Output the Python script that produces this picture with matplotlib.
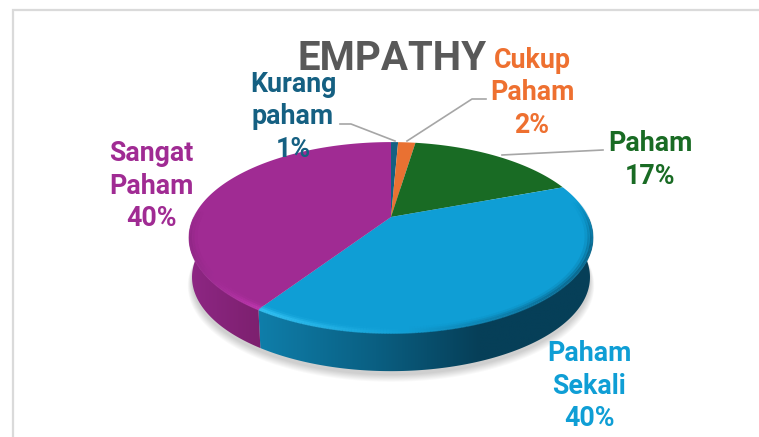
import numpy as np
import matplotlib
matplotlib.use("Agg")
import matplotlib.pyplot as plt
from matplotlib.patches import Polygon
from matplotlib.collections import LineCollection
from matplotlib.colors import to_rgb

# shares as measured on the slices; the printed labels are rounded
categories = ["Kurang\npaham", "Cukup\nPaham", "Paham", "Paham\nSekali", "Sangat\nPaham"]
values = [0.7, 1.7, 16.9, 40.0, 40.7]
percent_labels = ["1%", "2%", "17%", "40%", "40%"]
colors = ["#156082", "#E97132", "#196B24", "#0F9ED5", "#A02B93"]
label_colors = ["#156082", "#EE7030", "#196B24", "#0F9ED5", "#A02B93"]
label_pos = [(293, 117), (532, 93), (650, 160), (589, 386), (151, 186)]

CX, CY = 391, 217
RX, RY, K = 197.3, 91.0, 0.2147
DEPTH = 40


def project(frac, scale=1.0, dy=0.0):
    # tilted circle, frac runs clockwise from the top
    a = 2 * np.pi * np.asarray(frac)
    x, y = np.sin(a), np.cos(a)
    w = 1 + K * y
    return CX + scale * RX * x / w, CY + dy - scale * RY * y / w


def mix(c, other, t):
    return (1 - t) * np.array(to_rgb(c)) + t * np.array(to_rgb(other))


def wall(fr, stops, x0, x1):
    xa, ya = project(fr)
    xb, yb = project(fr, scale=0.985, dy=DEPTH)
    poly = Polygon(np.r_[np.c_[xa, ya], np.c_[xb, yb][::-1]], fc="none", ec="none", zorder=3)
    ax.add_patch(poly)
    pos = np.linspace(0, 1, 256)
    rgb = np.stack([np.interp(pos, [s[0] for s in stops], [to_rgb(s[1])[c] for s in stops]) for c in range(3)], axis=1)
    im = ax.imshow(rgb[None, :, :], extent=[x0, x1, 390, 200], aspect="auto", zorder=3, interpolation="bilinear")
    im.set_clip_path(poly)


def rim(fr, shade, fade):
    # soft bevel just inside the front edge of the top face
    for off, lw, alpha in [(0.994, 2.4, 0.85), (0.982, 2.6, 0.45), (0.968, 2.8, 0.18)]:
        xs, ys = project(fr, scale=off)
        segs = np.stack([np.c_[xs[:-1], ys[:-1]], np.c_[xs[1:], ys[1:]]], axis=1)
        seg_c = [tuple(shade(v)) + (alpha * fade(f),) for v, f in zip(xs[:-1], fr[:-1])]
        ax.add_collection(LineCollection(segs, colors=seg_c, linewidths=lw, zorder=5, capstyle="butt"))


fig = plt.figure(figsize=(7.59, 4.37), dpi=100)
ax = fig.add_axes([0, 0, 1, 1])
ax.set_autoscale_on(False)
ax.axis("off")

# frame
ax.plot([12.5, 12.5, 759], [437, 10, 10], color="#DADADA", lw=1.6, solid_joinstyle="miter", zorder=1)

# soft shadow below the pie
t = np.linspace(0, 1, 360)
for i in range(8):
    sx, sy = project(t, scale=0.985 + i * 0.003, dy=DEPTH + 4 + i * 0.6)
    ax.add_patch(Polygon(np.c_[sx, sy], fc="black", ec="none", alpha=0.022, zorder=2))

edges = np.cumsum([0] + values) / sum(values)
seam = edges[4]

# side wall, blue part right of the seam and purple part left of it
wall(np.linspace(0.25, seam, 150), [(0, "#0F7FAB"), (0.35, "#0A5F82"), (0.65, "#063F58"), (1, "#063F58")], 255, 600)
wall(np.linspace(seam, 0.75, 80), [(0, "#8F2785"), (1, "#7A1F6C")], 185, 270)
ax.set_xlim(0, 759)
ax.set_ylim(437, 0)

# top face
for i, c in enumerate(colors):
    fr = np.linspace(edges[i], edges[i + 1], 200)
    xs, ys = project(fr)
    ax.add_patch(Polygon(np.r_[[[CX, CY]], np.c_[xs, ys]], fc=c, ec="none", zorder=4))


def blue_shade(x):
    v = np.clip((x - 258) / (593 - 258), 0, 1)
    if v < 0.45:
        return mix("#35C4F5", colors[3], v / 0.45)
    return mix(colors[3], "#0A5F82", (v - 0.45) / 0.55)


def purple_shade(x):
    v = np.clip((x - 189) / (262 - 189), 0, 1)
    return mix("#8F2785", "#C238B2", v)


rim(np.linspace(0.22, seam, 200), blue_shade, lambda f: np.clip((f - 0.22) / 0.08, 0, 1))
rim(np.linspace(seam, 0.76, 100), purple_shade, lambda f: np.clip((0.76 - f) / 0.06, 0, 1))

# leader lines
ax.plot([340, 351, 395], [124, 124, 141], color="#A6A6A6", lw=1.2, zorder=6)
ax.plot([486, 472, 407], [99, 99, 141], color="#A6A6A6", lw=1.2, zorder=6)
ax.plot([603, 502], [150, 155], color="#A6A6A6", lw=1.2, zorder=6)

# labels
for name, pct, col, (lx, ly) in zip(categories, percent_labels, label_colors, label_pos):
    ax.text(lx, ly, name + "\n" + pct, color=col, fontsize=19.3, fontfamily="Roboto", fontweight="bold",
            ha="center", va="center", linespacing=1.28, zorder=7)

ax.text(392, 59, "EMPATHY", color="#595959", fontsize=29, fontfamily="Roboto", fontweight="bold",
        ha="center", va="center", zorder=7)

fig.savefig("out.png", dpi=100)
